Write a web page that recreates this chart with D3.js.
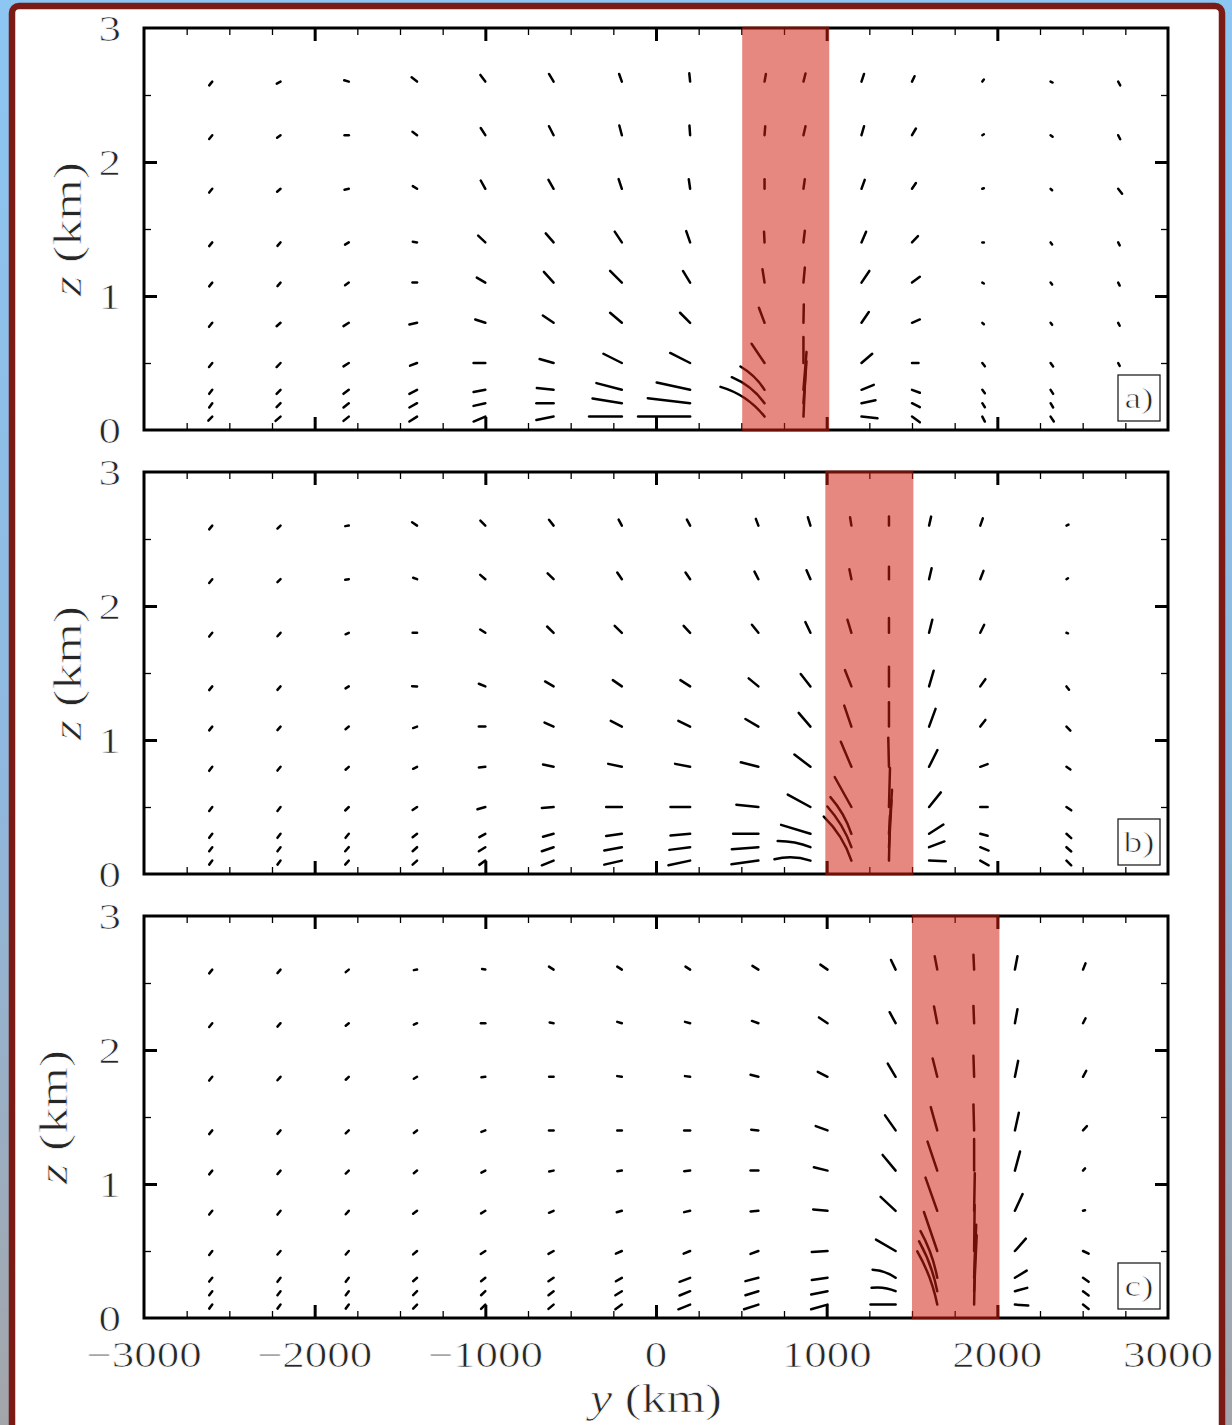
<!DOCTYPE html>
<html>
<head>
<meta charset="utf-8">
<script src="https://cdn.jsdelivr.net/npm/d3@7"></script>
<style>
  html, body { margin: 0; padding: 0; }
  body { width: 1232px; height: 1425px; overflow: hidden; }
  svg { display: block; }
  text { paint-order: fill; stroke: #ffffff; stroke-width: 0.7px; }
</style>
</head>
<body>
<svg id="chart" width="1232" height="1425"></svg>
<script>
// ---- Data ---------------------------------------------------------------
// Vertical levels (km) of the particle rows, top to bottom.
const levels = [2.6, 2.2, 1.8, 1.4, 1.1, 0.8, 0.5, 0.3, 0.2, 0.1];

// Horizontal anchor position (km) of each particle column, per panel.
const colsA = [-2600, -2200, -1800, -1400, -1000, -600, -200, 200, 636, 864, 1204, 1500, 1912, 2312, 2708];
const colsB = [-2600, -2200, -1800, -1400, -1000, -600, -200, 200, 600, 905, 1145, 1365, 1600, 1900, 2405];
const colsC = [-2600, -2200, -1800, -1400, -1000, -600, -200, 200, 600, 1005, 1404, 1648, 1864, 2103, 2502];

// Particle displacement [dy (km), dz (m)] from each anchor; one row per level.
const dispA = [
  [[-18,-28],[-22,-15],[-27,10],[-32,32],[-29,50],[-27,57],[-16,57],[-5,62],[8,57],[12,60],[15,57],[15,40],[9,15],[12,-7],[12,-28]],
  [[-18,-28],[-20,-19],[-25,0],[-27,25],[-27,54],[-27,67],[-15,72],[-4,72],[4,67],[12,67],[15,67],[23,50],[9,7],[12,-11],[12,-30]],
  [[-18,-28],[-20,-22],[-25,-7],[-25,20],[-27,62],[-30,67],[-19,72],[-8,72],[0,72],[8,72],[19,67],[23,43],[9,4],[9,-11],[23,-37]],
  [[-18,-28],[-18,-26],[-22,-17],[-25,5],[-42,50],[-46,67],[-42,80],[-23,84],[-3,80],[8,87],[27,80],[35,47],[9,0],[9,-15],[9,-22]],
  [[-18,-28],[-18,-26],[-22,-20],[-27,0],[-50,37],[-57,80],[-69,87],[-42,87],[-12,99],[8,112],[46,87],[46,43],[9,-7],[9,-15],[9,-22]],
  [[-19,-30],[-23,-26],[-31,-25],[-45,-13],[-59,25],[-63,54],[-69,75],[-59,75],[-33,112],[2,137],[43,80],[46,25],[9,-11],[9,-15],[9,-22]],
  [[-19,-30],[-23,-30],[-31,-25],[-41,-20],[-69,0],[-82,30],[-108,69],[-117,75],[-76,144],[0,194],[63,69],[38,0],[15,-25],[15,-26],[9,-22]],
  [[-18,-30],[-23,-30],[-31,-30],[-45,-30],[-69,-17],[-98,13],[-149,50],[-196,54],[-141,174],[18,283],[72,37],[46,-22],[15,-25],[15,-30],null],
  [[-18,-32],[-23,-30],[-31,-32],[-45,-32],[-69,-20],[-101,0],[-172,35],[-248,37],[-192,194],[18,313],[82,22],[46,-30],[15,-30],[15,-32],null],
  [[-23,-30],[-29,-32],[-31,-32],[-45,-37],[-69,-37],[-101,-25],[-192,0],[-305,0],[-258,222],[12,343],[94,-13],[46,-43],[15,-37],[19,-37],null]
];
const dispB = [
  [[-18,-28],[-18,-22],[-21,-4],[-29,25],[-29,37],[-27,43],[-19,45],[-19,45],[-15,50],[-15,62],[-8,62],[0,67],[12,67],[15,54],[12,7]],
  [[-18,-28],[-18,-22],[-21,-4],[-23,11],[-30,32],[-35,43],[-27,50],[-27,50],[-23,57],[-23,67],[-12,75],[0,92],[15,82],[19,62],[9,7]],
  [[-18,-28],[-18,-26],[-19,-11],[-26,0],[-30,25],[-38,47],[-42,52],[-38,52],[-38,60],[-30,80],[-23,97],[0,110],[19,97],[23,60],[9,-4]],
  [[-18,-28],[-18,-26],[-19,-15],[-29,2],[-38,20],[-50,37],[-53,47],[-57,47],[-57,60],[-57,92],[-38,122],[0,147],[27,117],[30,54],[15,-25]],
  [[-18,-28],[-18,-26],[-19,-19],[-23,-11],[-38,0],[-53,30],[-65,43],[-69,43],[-76,57],[-69,102],[-42,157],[0,181],[38,132],[30,50],[23,-30]],
  [[-18,-30],[-18,-28],[-19,-22],[-23,-15],[-38,-5],[-62,17],[-80,22],[-88,22],[-103,34],[-94,92],[-62,187],[-4,216],[49,125],[43,20],[23,-20]],
  [[-18,-30],[-18,-30],[-21,-26],[-26,-22],[-46,-17],[-69,-7],[-92,0],[-115,0],[-129,17],[-133,92],[-98,224],[6,291],[69,109],[43,0],[28,-25]],
  [[-18,-30],[-18,-30],[-19,-30],[-26,-26],[-35,-25],[-62,-22],[-92,-17],[-115,-13],[-148,0],[-172,67],[-123,274],[18,328],[84,69],[43,-15],[28,-32]],
  [[-18,-30],[-18,-30],[-21,-30],[-26,-30],[-38,-30],[-69,-30],[-103,-25],[-122,-20],[-156,-15],[-192,47],[-141,304],[15,351],[90,43],[49,-25],[28,-32]],
  [[-18,-30],[-18,-30],[-21,-30],[-26,-30],[-35,-32],[-69,-35],[-103,-30],[-127,-35],[-158,-27],[-211,10],[-162,328],[6,336],[98,-5],[49,-35],[28,-35]]
];
const dispC = [
  [[-18,-28],[-18,-26],[-18,-19],[-19,-4],[-19,4],[-27,22],[-27,22],[-27,22],[-35,28],[-42,37],[-27,72],[-15,99],[-4,110],[15,99],[15,47]],
  [[-18,-28],[-18,-26],[-18,-19],[-19,-11],[-26,0],[-23,5],[-27,10],[-30,10],[-38,17],[-50,43],[-35,82],[-19,125],[-4,129],[15,104],[15,37]],
  [[-18,-28],[-18,-26],[-18,-22],[-19,-15],[-23,-4],[-26,0],[-27,5],[-30,5],[-46,15],[-57,37],[-46,99],[-27,137],[-4,157],[19,119],[19,45]],
  [[-18,-28],[-18,-26],[-18,-22],[-19,-19],[-23,-11],[-27,0],[-27,0],[-35,0],[-42,5],[-69,32],[-62,112],[-38,174],[-4,194],[23,132],[23,32]],
  [[-18,-28],[-18,-26],[-18,-22],[-19,-19],[-23,-15],[-26,-7],[-27,-4],[-35,-4],[-46,0],[-80,25],[-76,117],[-57,216],[0,236],[30,142],[12,17]],
  [[-18,-28],[-18,-28],[-18,-26],[-23,-22],[-25,-19],[-27,-15],[-30,-11],[-35,-10],[-46,-5],[-84,10],[-88,104],[-69,248],[4,281],[45,125],[12,4]],
  [[-18,-30],[-18,-26],[-18,-26],[-23,-25],[-27,-22],[-30,-22],[-35,-20],[-38,-20],[-46,-22],[-92,-7],[-115,85],[-78,291],[3,343],[64,92],[33,-20]],
  [[-18,-28],[-18,-30],[-18,-30],[-23,-26],[-25,-26],[-30,-26],[-35,-26],[-62,-30],[-76,-25],[-92,-17],[-135,60],[-98,348],[12,395],[69,54],[33,-30]],
  [[-18,-30],[-18,-30],[-18,-30],[-23,-30],[-25,-30],[-30,-30],[-38,-30],[-62,-32],[-76,-30],[-96,-25],[-141,25],[-107,373],[15,418],[72,25],[33,-32]],
  [[-18,-30],[-18,-30],[-18,-30],[-23,-30],[-25,-32],[-30,-32],[-38,-35],[-69,-35],[-84,-35],[-96,-35],[-147,0],[-117,398],[6,425],[78,-7],[33,-32]]
];

// Curved trajectories: [column index, row index, bow as fraction of chord length].
const bendsA = [[8, 9, 0.08], [8, 8, 0.07], [8, 7, 0.06]];
const bendsB = [[10, 9, 0.06], [10, 8, 0.05], [10, 7, 0.05], [9, 9, 0.07], [9, 8, 0.05]];
const bendsC = [[11, 9, 0.04], [11, 8, 0.04], [11, 7, 0.04], [10, 8, 0.07], [10, 7, 0.07]];

// Shaded frontal zone [y0, y1] (km) in each panel.
const fronts = [[505, 1015], [992, 1508], [1500, 2012]];
const panelNames = ["a)", "b)", "c)"];

// Axis ticks and labels.
const xMajor = [-2000, -1000, 0, 1000, 2000];
const xMinor = d3.range(-2750, 3000, 250).filter(v => v % 1000 !== 0);
const zMajor = [1, 2];
const zMinor = [0.5, 1.5, 2.5];
const xTickValues = [-3000, -2000, -1000, 0, 1000, 2000, 3000];
const xTickLabels = ["\u22123000", "\u22122000", "\u22121000", "0", "1000", "2000", "3000"];
const zTickValues = [0, 1, 2, 3];
const zTickLabels = ["0", "1", "2", "3"];

// ---- Drawing ------------------------------------------------------------
const W = 1232, H = 1425;
const svg = d3.select("#chart");
const FONT = "'Liberation Serif', 'Times New Roman', serif";
const TEXT = "#262626";
const STRETCH = 1.25;

// window backdrop and framed page
const defs = svg.append("defs");
const grad = defs.append("linearGradient").attr("id", "backdrop")
  .attr("x1", 0).attr("y1", 0).attr("x2", 0).attr("y2", 1);
grad.append("stop").attr("offset", "0%").attr("stop-color", "#8cc6f2");
grad.append("stop").attr("offset", "55%").attr("stop-color", "#8fb8de");
grad.append("stop").attr("offset", "100%").attr("stop-color", "#a3a5a9");
svg.append("rect").attr("width", W).attr("height", H).attr("fill", "url(#backdrop)");
svg.append("rect")
  .attr("x", 12).attr("y", 6).attr("width", 1210).attr("height", H + 40)
  .attr("rx", 7).attr("fill", "#ffffff")
  .attr("stroke", "#7a1b15").attr("stroke-width", 6.5);

const x = d3.scaleLinear().domain([-3000, 3000]).range([144, 1168]);
const panelTops = [28, 472, 916];
const panelH = 402;
const panels = [
  { cols: colsA, disp: dispA, bends: bendsA },
  { cols: colsB, disp: dispB, bends: bendsB },
  { cols: colsC, disp: dispC, bends: bendsC }
];

function tickAxis(g, axis, width) {
  g.call(axis);
  g.select(".domain").remove();
  g.selectAll(".tick text").remove();
  g.selectAll(".tick line").attr("stroke", "#000").attr("stroke-width", width);
}

panels.forEach((p, i) => {
  const top = panelTops[i];
  const z = d3.scaleLinear().domain([0, 3]).range([top + panelH, top]);
  const g = svg.append("g").attr("class", "panel");

  // trajectory segments
  const segs = [];
  p.disp.forEach((row, r) => {
    row.forEach((d, c) => {
      if (!d) return;
      const bend = p.bends.find(b => b[0] === c && b[1] === r);
      segs.push({
        y0: p.cols[c], z0: levels[r],
        y1: p.cols[c] + d[0], z1: levels[r] + d[1] / 1000,
        bow: bend ? bend[2] : 0
      });
    });
  });
  g.append("g").selectAll("path").data(segs).join("path")
    .attr("d", s => {
      const ax = x(s.y0), ay = z(s.z0), bx = x(s.y1), by = z(s.z1);
      if (!s.bow) return `M${ax},${ay}L${bx},${by}`;
      const vx = bx - ax, vy = by - ay, len = Math.hypot(vx, vy);
      const cx = (ax + bx) / 2 - vy / len * s.bow * len * 2;
      const cy = (ay + by) / 2 + vx / len * s.bow * len * 2;
      return `M${ax},${ay}Q${cx},${cy} ${bx},${by}`;
    })
    .attr("fill", "none").attr("stroke", "#000")
    .attr("stroke-width", 2.5).attr("stroke-linecap", "round");

  // inward ticks on all four sides
  const bottom = g.append("g").attr("transform", `translate(0,${z(0)})`);
  const topG = g.append("g").attr("transform", `translate(0,${z(3)})`);
  const left = g.append("g").attr("transform", `translate(${x(-3000)},0)`);
  const right = g.append("g").attr("transform", `translate(${x(3000)},0)`);
  tickAxis(bottom.append("g"), d3.axisBottom(x).tickValues(xMinor).tickSize(-7), 1.3);
  tickAxis(bottom.append("g"), d3.axisBottom(x).tickValues(xMajor).tickSize(-13), 3);
  tickAxis(topG.append("g"), d3.axisTop(x).tickValues(xMinor).tickSize(-7), 1.3);
  tickAxis(topG.append("g"), d3.axisTop(x).tickValues(xMajor).tickSize(-13), 3);
  tickAxis(left.append("g"), d3.axisLeft(z).tickValues(zMinor).tickSize(-7), 1.3);
  tickAxis(left.append("g"), d3.axisLeft(z).tickValues(zMajor).tickSize(-13), 3);
  tickAxis(right.append("g"), d3.axisRight(z).tickValues(zMinor).tickSize(-7), 1.3);
  tickAxis(right.append("g"), d3.axisRight(z).tickValues(zMajor).tickSize(-13), 3);

  // plot frame
  g.append("rect")
    .attr("x", x(-3000)).attr("y", z(3))
    .attr("width", x(3000) - x(-3000)).attr("height", z(0) - z(3))
    .attr("fill", "none").attr("stroke", "#000").attr("stroke-width", 3);

  // frontal zone, laid over the marks
  const f = fronts[i];
  g.append("rect")
    .attr("x", x(f[0])).attr("width", x(f[1]) - x(f[0]))
    .attr("y", z(3) - 1.5).attr("height", z(0) - z(3) + 3)
    .attr("fill", "rgb(207,30,15)").attr("fill-opacity", 0.53);

  // panel tag
  const bx = x(3000) - 50, by = z(0) - 55;
  g.append("rect").attr("x", bx).attr("y", by).attr("width", 42).attr("height", 46)
    .attr("fill", "#fff").attr("stroke", "#222").attr("stroke-width", 1.3);
  g.append("text")
    .attr("transform", `translate(${bx + 21},${by + 33}) scale(${STRETCH},1)`)
    .attr("text-anchor", "middle").attr("font-family", FONT).attr("font-size", 30)
    .attr("fill", TEXT).text(panelNames[i]);

  // z tick labels
  g.append("g").selectAll("text").data(zTickValues).join("text")
    .attr("transform", v => `translate(121,${z(v)}) scale(${STRETCH},1)`)
    .attr("dy", "0.35em").attr("text-anchor", "end")
    .attr("font-family", FONT).attr("font-size", 36).attr("fill", TEXT)
    .text((v, k) => zTickLabels[k]);

  // z axis title
  const zt = g.append("text")
    .attr("transform", `translate(${i === 2 ? 67 : 81},${(z(0) + z(3)) / 2}) rotate(-90) scale(1.3,1)`)
    .attr("text-anchor", "middle").attr("font-family", FONT).attr("font-size", 40).attr("fill", TEXT);
  zt.append("tspan").attr("font-style", "italic").text("z");
  zt.append("tspan").attr("dx", 10).text("(km)");

  if (i === 2) {
    g.append("g").selectAll("text").data(xTickValues).join("text")
      .attr("transform", v => `translate(${x(v)},1367) scale(${STRETCH},1)`)
      .attr("text-anchor", "middle")
      .attr("font-family", FONT).attr("font-size", 36).attr("fill", TEXT)
      .text((v, k) => xTickLabels[k]);
    const xt = g.append("text")
      .attr("transform", `translate(${x(0)},1412) scale(${STRETCH},1)`)
      .attr("text-anchor", "middle").attr("font-family", FONT).attr("font-size", 40).attr("fill", TEXT);
    xt.append("tspan").attr("font-style", "italic").text("y");
    xt.append("tspan").attr("dx", 10).text("(km)");
  }
});
</script>
</body>
</html>
